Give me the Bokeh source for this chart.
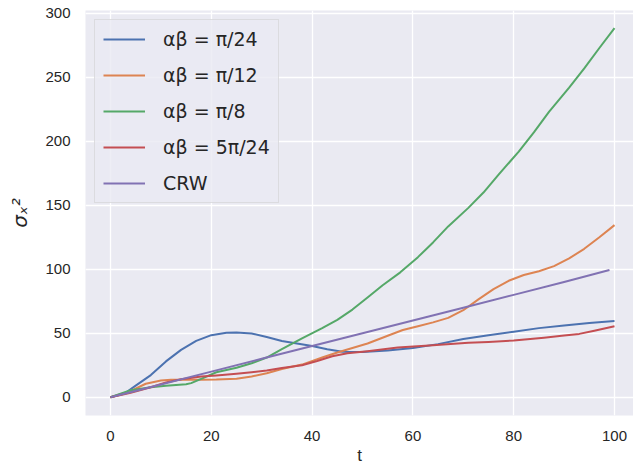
from bokeh.plotting import figure
from bokeh.models import Legend, LegendItem, FixedTicker, Range1d
from bokeh.embed import file_html
from bokeh.resources import INLINE

# Variance of x over time for several turning-angle settings
t_pi24 = [0, 3, 5, 8, 11, 14, 17, 20, 23, 25, 28, 31, 34, 37, 40, 43, 46, 50, 55, 60, 65, 70, 75, 80, 85, 90, 95, 100]
v_pi24 = [0, 3.5, 9, 17.3, 28, 37, 44, 48.5, 50.3, 50.6, 49.8, 47, 44, 42, 40, 37.5, 35.5, 35.3, 36.5, 38.5, 41.5, 45.5, 48.5, 51.2, 54, 56, 58, 59.5]

t_pi12 = [0, 3, 7, 10, 12, 15, 18, 21, 25, 28, 31, 34, 38, 42, 45, 48, 51, 55, 58, 61, 64, 67, 70, 73, 76, 79, 82, 85, 88, 91, 94, 97, 100]
v_pi12 = [0, 3, 10.5, 13, 13.6, 13.6, 13.6, 13.8, 14.5, 16.2, 18.7, 22, 25.5, 31, 35, 38.5, 42, 48, 52.5, 55.5, 58.5, 62, 68, 76.5, 84.5, 91, 95.5, 98.5, 102.5, 108.5, 116, 125, 134.5]

t_pi8 = [0, 4, 8, 11, 15, 16, 18, 21, 25, 28, 31, 34, 38, 42, 45, 48, 51, 54, 57.5, 61, 64, 67, 71, 74, 77, 81, 84, 87, 91, 94, 97, 100]
v_pi8 = [0, 5.5, 7.8, 9, 10.2, 11, 14.3, 19.5, 23, 26.5, 31, 37.5, 46, 54, 60.5, 68.5, 78, 87.5, 97.6, 109.5, 121, 133.5, 148, 160, 174, 192, 207, 223, 242, 257, 273, 288.5]

t_5pi24 = [0, 4, 8, 11, 14, 18, 21, 25, 28, 31, 34, 38, 41, 44, 47, 51, 57, 64, 71, 75, 80, 86, 90, 93, 96, 100]
v_5pi24 = [0, 3.5, 7.8, 11.5, 14, 16.2, 17, 18.3, 19.5, 20.8, 22.9, 25, 28.3, 32, 34.3, 36, 38.8, 40.6, 42.5, 43.2, 44.3, 46.5, 48.2, 49.5, 52, 55.5]

t_crw = [0, 10, 20, 30, 40, 50, 60, 70, 80, 90, 99]
v_crw = [0, 10, 20, 30, 40, 50, 60, 70, 80, 90, 99.5]

labels = ["αβ = π/24", "αβ = π/12", "αβ = π/8", "αβ = 5π/24", "CRW"]
colors = ["#4C72B0", "#DD8452", "#55A868", "#C44E52", "#8172B3"]
x_ticks = [0, 20, 40, 60, 80, 100]
y_ticks = [0, 50, 100, 150, 200, 250, 300]

p = figure(width=633, height=468, output_backend="svg", toolbar_location=None,
           x_range=Range1d(-4.96, 103.77), y_range=Range1d(-14.3, 302.3),
           min_border_left=85, min_border_right=0, min_border_top=10, min_border_bottom=53,
           background_fill_color="#EAEAF2", border_fill_color="white")
p.outline_line_color = None

series = [(t_pi24, v_pi24), (t_pi12, v_pi12), (t_pi8, v_pi8), (t_5pi24, v_5pi24), (t_crw, v_crw)]
renderers = []
for (tx, vy), c in zip(series, colors):
    renderers.append(p.line(tx, vy, line_color=c, line_width=2, line_join="round"))

# axes styling: no ticks, no axis line, grey labels
for ax in (p.xaxis[0], p.yaxis[0]):
    ax.axis_line_color = None
    ax.major_tick_line_color = None
    ax.minor_tick_line_color = None
    ax.major_tick_out = 0
    ax.major_tick_in = 0
    ax.major_label_standoff = 15
    ax.major_label_text_font = "Liberation Sans"
    ax.major_label_text_font_size = "15px"
    ax.major_label_text_color = "#262626"
    ax.axis_label_text_font = "Liberation Sans"
    ax.axis_label_text_font_size = "17px"
    ax.axis_label_text_font_style = "normal"
    ax.axis_label_text_color = "#262626"

p.xaxis.ticker = FixedTicker(ticks=x_ticks)
p.yaxis.ticker = FixedTicker(ticks=y_ticks)
p.xaxis.axis_label = "t"
p.xaxis.axis_label_standoff = 2
p.yaxis.axis_label = "σₓ²"
p.yaxis.axis_label_text_font = "DejaVu Sans"
p.yaxis.axis_label_text_font_style = "italic"
p.yaxis.axis_label_text_font_size = "20px"
p.yaxis.axis_label_standoff = 10

p.xgrid.ticker = FixedTicker(ticks=x_ticks)
p.ygrid.ticker = FixedTicker(ticks=y_ticks)
for g in (p.xgrid[0], p.ygrid[0]):
    g.grid_line_color = "white"
    g.grid_line_width = 1.3

legend = Legend(items=[LegendItem(label=l, renderers=[r]) for l, r in zip(labels, renderers)],
                location="top_left", margin=9, padding=8, spacing=14,
                glyph_width=42, glyph_height=20, label_height=20, label_standoff=18,
                label_text_font="DejaVu Sans", label_text_font_size="19px",
                label_text_color="#262626",
                background_fill_color="#EAEAF2", background_fill_alpha=0.8,
                border_line_color="#CCCCCC", border_line_width=1)
p.add_layout(legend)

open("out.html", "w").write(file_html(p, INLINE))
